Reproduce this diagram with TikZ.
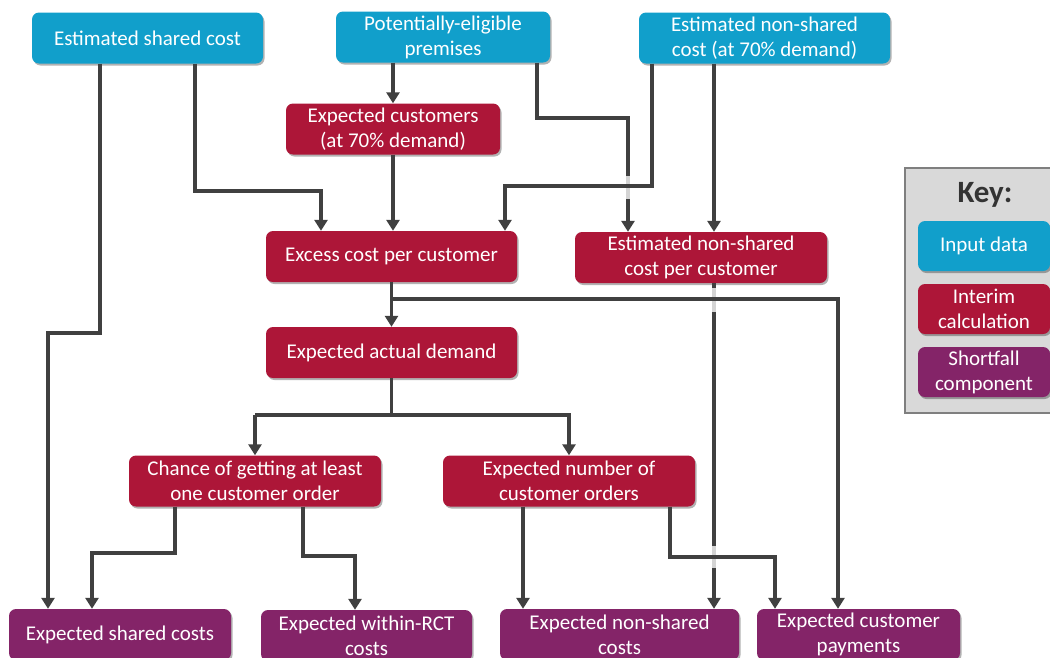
\documentclass[tikz,border=0pt]{standalone}
\usepackage{fontspec}
\setmainfont{Carlito}
\usetikzlibrary{arrows.meta,shadows}
\definecolor{inblue}{HTML}{119FCB}
\definecolor{midred}{HTML}{AD1638}
\definecolor{outpur}{HTML}{842468}
\definecolor{conn}{HTML}{404040}
\definecolor{gapc}{HTML}{D4D4D4}
\definecolor{keyfill}{HTML}{D9D9D9}
\definecolor{keyline}{HTML}{7F7F7F}
\tikzset{
  box/.style={rounded corners=7pt, minimum height=51pt, inner sep=0pt, align=center,
    text=white, font=\fontsize{21}{25}\selectfont,
    drop shadow={shadow xshift=1.5pt, shadow yshift=-2pt, opacity=0.3, fill=black}},
  inbox/.style={box, fill=inblue},
  midbox/.style={box, fill=midred},
  outbox/.style={box, fill=outpur},
  conn/.style={draw=conn, line width=3.2pt, -{Triangle[length=11pt,width=13pt]}},
  plain/.style={draw=conn, line width=3.2pt},
  gap/.style={draw=gapc, line width=3.2pt},
}
\begin{document}
\begin{tikzpicture}[x=1pt,y=-1pt]
\useasboundingbox (0,0) rectangle (1050,657);
\clip (0,0) rectangle (1050,657);
% input nodes
\node[inbox, minimum width=231pt] (esc) at (147.5,38) {Estimated shared cost};
\node[inbox, minimum width=214pt] (pep) at (443,37) {Potentially-eligible\\premises};
\node[inbox, minimum width=251pt] (ens) at (764.5,38) {Estimated non-shared\\cost (at 70\% demand)};
% interim nodes
\node[midbox, minimum width=214pt] (ecu) at (393,129) {Expected customers\\(at 70\% demand)};
\node[midbox, minimum width=251pt] (ecc) at (391.5,256.5) {Excess cost per customer};
\node[midbox, minimum width=252pt] (npc) at (701,257.5) {Estimated non-shared\\cost per customer};
\node[midbox, minimum width=251pt] (ead) at (391.5,352.5) {Expected actual demand};
\node[midbox, minimum width=252pt] (cha) at (255,481) {Chance of getting at least\\one customer order};
\node[midbox, minimum width=252pt] (eno) at (569,481) {Expected number of\\customer orders};
% output nodes
\node[outbox, minimum width=222pt] (esh) at (120,634.5) {Expected shared costs};
\node[outbox, minimum width=211pt] (ewr) at (366.5,635.5) {Expected within-RCT\\costs};
\node[outbox, minimum width=239pt] (ensc) at (619.5,634.5) {Expected non-shared\\costs};
\node[outbox, minimum width=203pt] (ecp) at (858.5,634.5) {Expected customer\\payments};
% key
\node[draw=keyline, fill=keyfill, line width=1.5pt, minimum width=165pt, minimum height=245pt, inner sep=0pt] (keybox) at (987.5,290.5) {};
\node[font=\fontsize{31}{34}\selectfont\bfseries, text=black!80] (keyt) at (985,195) {Key:};
\node[inbox, minimum width=132pt, minimum height=50pt] (k1) at (984,246) {Input data};
\node[midbox, minimum width=132pt, minimum height=50pt] (k2) at (984,309) {Interim\\calculation};
\node[outbox, minimum width=132pt, minimum height=50pt] (k3) at (984,372) {Shortfall\\component};
% connectors that are crossed (drawn first)
\draw[conn] (pep.south -| 537,0) -- (537,118) -| (npc.north -| 628,0);
\draw[conn] (npc.south -| 714,0) -- (ensc.north -| 714,0);
\draw[gap] (628,176) -- (628,199);
\draw[gap] (714,288) -- (714,312);
\draw[gap] (714,546) -- (714,568);
% other connectors
\draw[conn] (esc.south -| 100,0) -- (100,333) -| (esh.north -| 48,0);
\draw[conn] (esc.south -| 195,0) -- (195,191) -| (ecc.north -| 321,0);
\draw[conn] (pep.south -| 393,0) -- (ecu.north);
\draw[conn] (ens.south -| 652,0) -- (652,186) -| (ecc.north -| 505,0);
\draw[conn] (ens.south -| 714,0) -- (npc.north -| 714,0);
\draw[conn] (ecu.south) -- (ecc.north -| ecu.south);
\draw[conn] (ecc.south) -- (ead.north);
\draw[conn] (ecc.south |- 0,299) -| (ecp.north -| 838,0);
\draw[plain] (ead.south) -- (ead.south |- 0,415);
\draw[conn] (255,415) -- (cha.north);
\draw[conn] (255,415) -| (eno.north);
\draw[conn] (cha.south -| 175,0) -- (175,553) -| (esh.north -| 92,0);
\draw[conn] (cha.south -| 303,0) -- (303,556) -| (ewr.north -| 355,0);
\draw[conn] (eno.south -| 523,0) -- (ensc.north -| 523,0);
\draw[conn] (eno.south -| 670,0) -- (670,557) -| (ecp.north -| 775,0);
\end{tikzpicture}
\end{document}
